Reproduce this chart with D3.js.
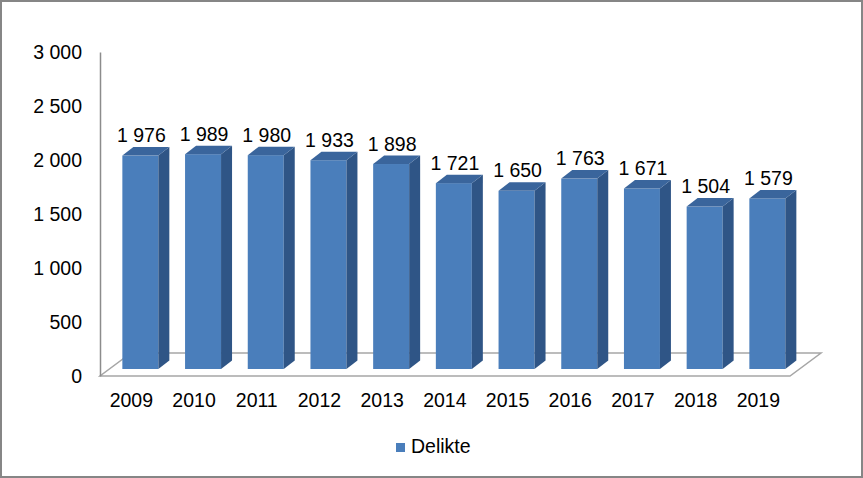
<!DOCTYPE html>
<html>
<head>
<meta charset="utf-8">
<script src="https://cdn.jsdelivr.net/npm/d3@7"></script>
<style>
  body { margin: 0; background: #fff; }
  text { font-family: "Liberation Sans", Arial, sans-serif; fill: #000; }
</style>
</head>
<body>
<div id="chart"></div>
<script>
// chart data
var years = ["2009", "2010", "2011", "2012", "2013", "2014", "2015", "2016", "2017", "2018", "2019"];
var delikte = [1976, 1989, 1980, 1933, 1898, 1721, 1650, 1763, 1671, 1504, 1579];
var yTicks = [0, 500, 1000, 1500, 2000, 2500, 3000];
var seriesName = "Delikte";

var width = 863, height = 478;
var depth = { dx: 11, dy: 8.5 },      // bar depth offset
    floorDepth = { dx: 31, dy: 23 };  // floor depth offset
var barLift = 7; // bars stand a bit behind the front edge
var fontSize = "19.5px";

var locale = d3.formatLocale({ decimal: ",", thousands: " ", grouping: [3], currency: ["", ""] });
var fmt = locale.format(",d");

var svg = d3.select("#chart").append("svg")
    .attr("width", width)
    .attr("height", height);

// outer frame
svg.append("rect")
    .attr("x", 1).attr("y", 1)
    .attr("width", width - 2).attr("height", height - 2)
    .attr("fill", "#fff")
    .attr("stroke", "#868686")
    .attr("stroke-width", 2);

var x = d3.scaleBand()
    .domain(years)
    .range([109, 109 + 62.7 * years.length])
    .paddingInner(0.426)
    .paddingOuter(0.213);

var y = d3.scaleLinear()
    .domain([0, 3000])
    .range([376, 52]);

// floor
var fl = 100, fr = 790, fy = y(0);
svg.append("path")
    .attr("d", "M" + fl + "," + fy + "L" + fr + "," + fy +
        "L" + (fr + floorDepth.dx) + "," + (fy - floorDepth.dy) +
        "L" + (fl + floorDepth.dx) + "," + (fy - floorDepth.dy) + "Z")
    .attr("fill", "#fff")
    .attr("stroke", "#a6a6a6")
    .attr("stroke-width", 1.5);

// y axis
var yAxis = d3.axisLeft(y)
    .tickValues(yTicks)
    .tickFormat(fmt)
    .tickSize(0)
    .tickPadding(18);

var gy = svg.append("g")
    .attr("transform", "translate(" + fl + ",0)")
    .call(yAxis);
gy.select(".domain").attr("stroke", "#8c8c8c").attr("stroke-width", 1.5);
gy.selectAll(".tick text")
    .attr("font-size", fontSize)
    .attr("font-family", "Liberation Sans, Arial, sans-serif")
    .attr("fill", "#000");

var data = years.map(function(d, i) { return { year: d, value: delikte[i] }; });
var bw = x.bandwidth();

var bars = svg.selectAll(".bar")
    .data(data)
    .enter()
    .append("g")
    .attr("class", "bar");

// front face
bars.append("rect")
    .attr("x", function(d) { return x(d.year); })
    .attr("y", function(d) { return y(d.value) - barLift; })
    .attr("width", bw)
    .attr("height", function(d) { return y(0) - y(d.value); })
    .attr("fill", "#4a7ebb");

// side face
bars.append("path")
    .attr("d", function(d) {
        var x1 = x(d.year) + bw, yt = y(d.value) - barLift, yb = y(0) - barLift;
        return "M" + x1 + "," + yb + "L" + (x1 + depth.dx) + "," + (yb - depth.dy) +
            "L" + (x1 + depth.dx) + "," + (yt - depth.dy) + "L" + x1 + "," + yt + "Z";
    })
    .attr("fill", "#2f5586");

// top face
bars.append("path")
    .attr("d", function(d) {
        var x0 = x(d.year), yt = y(d.value) - barLift;
        return "M" + x0 + "," + yt + "L" + (x0 + bw) + "," + yt +
            "L" + (x0 + bw + depth.dx) + "," + (yt - depth.dy) +
            "L" + (x0 + depth.dx) + "," + (yt - depth.dy) + "Z";
    })
    .attr("fill", "#3a659c");

// value labels
bars.append("text")
    .attr("x", function(d) { return x(d.year) + bw / 2 + 1; })
    .attr("y", function(d) { return y(d.value) - barLift - depth.dy - 5; })
    .attr("text-anchor", "middle")
    .attr("font-size", fontSize)
    .text(function(d) { return fmt(d.value); });

// category labels
svg.selectAll(".year-label")
    .data(years)
    .enter()
    .append("text")
    .attr("class", "year-label")
    .attr("x", function(d) { return x(d) + bw / 2 - 9; })
    .attr("y", 407)
    .attr("text-anchor", "middle")
    .attr("font-size", fontSize)
    .text(function(d) { return d; });

// legend
var legend = svg.append("g").attr("transform", "translate(396,443)");
legend.append("rect")
    .attr("width", 9).attr("height", 9)
    .attr("fill", "#4a7ebb");
legend.append("text")
    .attr("x", 15).attr("y", 10)
    .attr("font-size", fontSize)
    .text(seriesName);
</script>
</body>
</html>
